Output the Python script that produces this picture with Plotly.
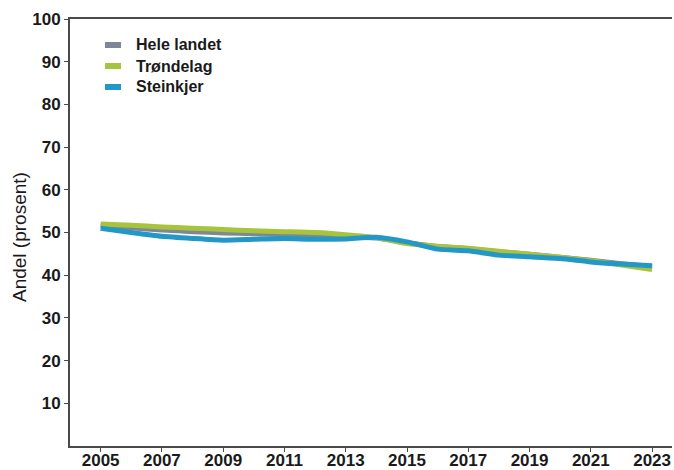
import plotly.graph_objects as go

years = list(range(2005, 2024))
hele_landet = [51.6, 51.1, 50.6, 50.2, 49.9, 49.7, 49.5, 49.3, 49.0, 48.7, 47.6, 46.7, 46.2, 45.5, 44.9, 44.2, 43.5, 42.7, 42.0]
trondelag = [52.0, 51.7, 51.3, 51.0, 50.7, 50.4, 50.2, 50.0, 49.5, 48.8, 47.4, 46.8, 46.3, 45.6, 44.9, 44.2, 43.4, 42.4, 41.3]
steinkjer = [51.0, 50.0, 49.1, 48.6, 48.2, 48.4, 48.6, 48.4, 48.5, 48.9, 47.8, 46.1, 45.7, 44.7, 44.3, 43.9, 43.1, 42.6, 42.2]

series_names = ["Hele landet", "Trøndelag", "Steinkjer"]
series_values = [hele_landet, trondelag, steinkjer]
colors = ["#7d8894", "#a8c43e", "#2398c6"]

x_ticks = list(range(2005, 2024, 2))
y_ticks = list(range(10, 101, 10))

W, H = 674, 470
ML, MR, MT, MB = 70, 2, 19, 24
PW, PH = W - ML - MR, H - MT - MB

def px_to_paper(px, py):
    return (px - ML) / PW, (H - MB - py) / PH

fig = go.Figure()
for name, vals, col in zip(series_names, series_values, colors):
    fig.add_trace(go.Scatter(x=years, y=vals, mode="lines", name=name, showlegend=False,
                             line=dict(color=col, width=5, shape="spline", smoothing=0.5)))

font_family = "Liberation Sans, Arial, sans-serif"

# manual legend (swatch + label)
shapes = []
annotations = []
for i, (name, col) in enumerate(zip(series_names, colors)):
    cy = 45 + 21 * i
    x0, y0 = px_to_paper(105, cy - 3)
    x1, y1 = px_to_paper(121, cy + 3)
    shapes.append(dict(type="rect", xref="paper", yref="paper", x0=x0, x1=x1, y0=y0, y1=y1,
                       fillcolor=col, line=dict(width=0)))
    tx, ty = px_to_paper(134, cy)
    annotations.append(dict(xref="paper", yref="paper", x=tx, y=ty, xanchor="left", yanchor="middle",
                            text=name, showarrow=False,
                            font=dict(family=font_family, size=16, color="#1a1a1a", weight="bold")))

# y-axis title as rotated text
tx, ty = px_to_paper(19, 237)
annotations.append(dict(xref="paper", yref="paper", x=tx, y=ty, xanchor="center", yanchor="middle",
                        text="Andel (prosent)", showarrow=False, textangle=-90,
                        font=dict(family=font_family, size=19, color="#1a1a1a")))

fig.update_layout(
    width=W, height=H,
    margin=dict(l=ML, r=MR, t=MT, b=MB, autoexpand=False),
    paper_bgcolor="white", plot_bgcolor="white",
    font=dict(family=font_family, size=16, color="#1a1a1a"),
    showlegend=False,
    shapes=shapes, annotations=annotations,
    xaxis=dict(range=[2004, 2023.65], tickmode="array", tickvals=x_ticks,
               ticktext=[str(t) for t in x_ticks], automargin=False,
               showgrid=False, zeroline=False, showline=True, linecolor="#4a4a4a",
               linewidth=2, mirror=True, ticks="outside", ticklen=4, tickcolor="#4a4a4a",
               ticklabelstandoff=-6,
               tickfont=dict(size=17, weight="bold", color="#1a1a1a")),
    yaxis=dict(range=[0, 100], tickmode="array", tickvals=y_ticks,
               ticktext=[str(t) for t in y_ticks], automargin=False,
               showgrid=False, zeroline=False, showline=True, linecolor="#4a4a4a",
               linewidth=2, mirror=False, ticks="outside", ticklen=4, tickcolor="#4a4a4a",
               tickfont=dict(size=17, weight="bold", color="#1a1a1a")),
)

fig.write_html("out.html", config={"displayModeBar": False},
               post_script="document.body.style.margin='0';document.body.style.padding='0';")
